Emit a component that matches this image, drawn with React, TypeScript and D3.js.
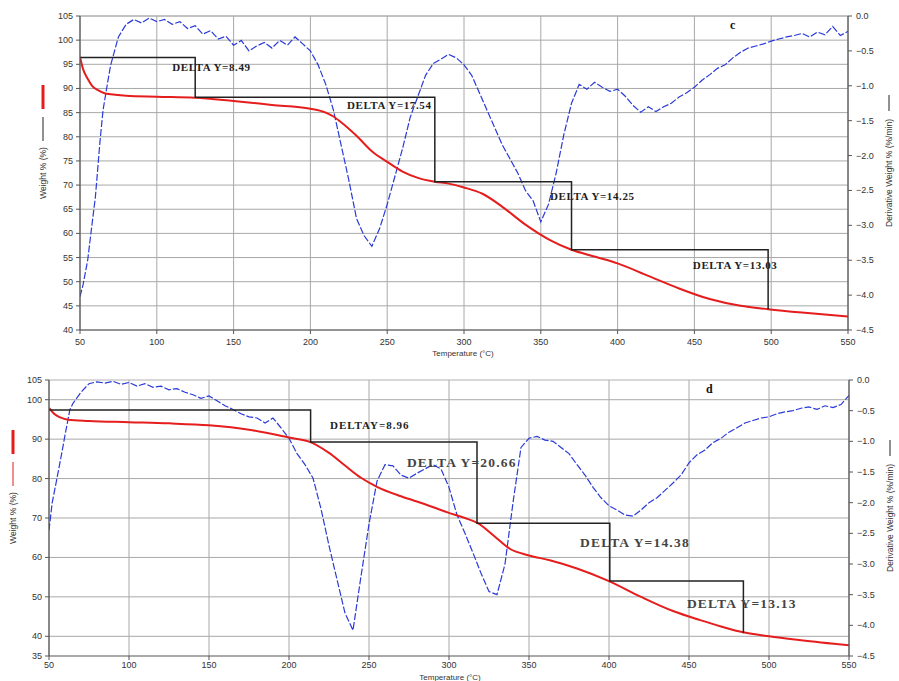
import React from "react";
import * as d3 from "d3";

// TGA weight (%) curves as [temperature, weight]
const weightC: [number, number][] = [
  [50, 96.5], [52, 94], [55, 92], [58, 90.5], [62, 89.6], [66, 89.0], [70, 88.8],
  [80, 88.5], [100, 88.3], [125, 88.1], [150, 87.4], [175, 86.6], [200, 85.8],
  [210, 85.0], [215, 84.2], [220, 83.0], [230, 80.2], [240, 77.0], [250, 74.8],
  [260, 72.8], [270, 71.5], [281, 70.7], [290, 70.3], [300, 69.5], [312, 68.2],
  [325, 65.5], [340, 61.8], [356, 58.6], [370, 56.6], [385, 55.2], [400, 53.8],
  [420, 51.2], [440, 48.6], [460, 46.4], [480, 45.0], [498, 44.3], [520, 43.6],
  [550, 42.8],
];

const weightD: [number, number][] = [
  [50, 97.9], [53, 96.5], [57, 95.5], [62, 94.9], [75, 94.6], [100, 94.3],
  [125, 94.0], [150, 93.5], [175, 92.4], [200, 90.4], [213, 89.3], [225, 86.5],
  [235, 83.3], [245, 80.2], [255, 77.9], [270, 75.5], [285, 73.5], [300, 71.3],
  [310, 70.0], [318, 68.7], [328, 65.5], [338, 62.2], [350, 60.5], [363, 59.3],
  [380, 57.2], [400, 54.0], [420, 50.0], [440, 46.4], [457, 44.1], [470, 42.5],
  [484, 41.0], [500, 40.0], [520, 39.0], [550, 37.7],
];

// DTG derivative weight (%/min) curves
const derivC: [number, number][] = [
  [50, -4.02], [52, -3.85], [55, -3.5], [58, -2.95], [60, -2.6], [63, -1.8], [65, -1.35],
  [68, -0.95], [70, -0.7], [75, -0.3], [80, -0.12], [85, -0.05], [90, -0.1], [95, -0.03],
  [100, -0.08], [105, -0.05], [110, -0.12], [115, -0.08], [120, -0.18], [125, -0.14],
  [130, -0.26], [135, -0.21], [140, -0.33], [145, -0.29], [150, -0.42], [155, -0.35],
  [160, -0.5], [165, -0.43], [170, -0.38], [175, -0.46], [180, -0.35], [185, -0.42],
  [190, -0.3], [195, -0.4], [200, -0.5], [205, -0.7], [210, -0.98], [215, -1.35],
  [220, -1.85], [225, -2.35], [230, -2.9], [235, -3.15], [240, -3.3], [245, -3.05],
  [250, -2.7], [255, -2.3], [260, -1.9], [265, -1.45], [270, -1.15], [275, -0.85],
  [280, -0.68], [285, -0.62], [290, -0.55], [295, -0.6], [300, -0.7], [305, -0.85],
  [310, -1.1], [315, -1.35], [320, -1.6], [325, -1.85], [330, -2.05], [335, -2.25],
  [340, -2.5], [345, -2.65], [350, -2.95], [355, -2.7], [360, -2.25], [365, -1.7],
  [370, -1.25], [375, -0.98], [380, -1.05], [385, -0.95], [390, -1.02], [395, -1.08],
  [400, -1.05], [405, -1.15], [410, -1.28], [415, -1.38], [420, -1.3], [425, -1.37],
  [430, -1.3], [435, -1.25], [440, -1.16], [445, -1.1], [450, -1.02], [455, -0.92],
  [460, -0.84], [465, -0.75], [470, -0.7], [475, -0.6], [480, -0.52], [485, -0.46],
  [490, -0.43], [495, -0.4], [500, -0.36], [505, -0.33], [510, -0.3], [515, -0.28],
  [520, -0.25], [525, -0.3], [530, -0.23], [535, -0.27], [540, -0.15], [545, -0.28],
  [550, -0.22],
];

const derivD: [number, number][] = [
  [50, -2.45], [52, -2.0], [55, -1.6], [58, -1.19], [60, -0.9], [63, -0.49], [65, -0.38],
  [70, -0.2], [75, -0.06], [80, -0.03], [85, -0.05], [90, -0.02], [95, -0.07],
  [100, -0.04], [105, -0.1], [110, -0.06], [115, -0.12], [120, -0.1], [125, -0.16],
  [130, -0.14], [135, -0.2], [140, -0.24], [145, -0.3], [150, -0.26], [155, -0.34],
  [160, -0.42], [165, -0.48], [170, -0.55], [175, -0.6], [180, -0.62], [185, -0.7],
  [190, -0.62], [195, -0.78], [200, -0.95], [205, -1.2], [210, -1.38], [215, -1.6],
  [220, -2.1], [225, -2.7], [230, -3.25], [235, -3.8], [240, -4.08], [245, -3.2],
  [250, -2.35], [255, -1.65], [260, -1.38], [265, -1.4], [270, -1.55], [275, -1.6],
  [280, -1.52], [285, -1.45], [290, -1.38], [295, -1.45], [300, -1.75], [305, -2.2],
  [310, -2.5], [315, -2.82], [320, -3.15], [325, -3.45], [330, -3.5], [335, -3.0],
  [340, -2.0], [345, -1.1], [350, -0.95], [355, -0.92], [360, -0.98], [365, -1.0],
  [370, -1.1], [375, -1.2], [380, -1.38], [385, -1.55], [390, -1.75], [395, -1.92],
  [400, -2.05], [405, -2.12], [410, -2.2], [415, -2.22], [420, -2.12], [425, -2.0],
  [430, -1.92], [435, -1.8], [440, -1.68], [445, -1.55], [450, -1.35], [455, -1.22],
  [460, -1.14], [465, -1.02], [470, -0.95], [475, -0.85], [480, -0.78], [485, -0.7],
  [490, -0.66], [495, -0.62], [500, -0.6], [505, -0.55], [510, -0.52], [515, -0.5],
  [520, -0.46], [525, -0.44], [530, -0.48], [535, -0.42], [540, -0.45], [545, -0.4],
  [550, -0.25],
];

// DELTA Y step lines: corners [temperature, weight]
const stepsC: [number, number][] = [
  [50, 96.4], [125, 96.4], [125, 88.2], [281, 88.2], [281, 70.7],
  [370, 70.7], [370, 56.6], [498, 56.6], [498, 44.3],
];
const stepsD: [number, number][] = [
  [50, 97.4], [213.5, 97.4], [213.5, 89.3], [317.5, 89.3], [317.5, 68.7],
  [400.5, 68.7], [400.5, 54], [484, 54], [484, 40.8],
];

// labels: [temperature, weight, text]
const labelsC: [number, number, string][] = [
  [110, 93.6, "DELTA Y=8.49"],
  [223.8, 85.7, "DELTA Y=17.54"],
  [356, 66.9, "DELTA Y=14.25"],
  [449, 52.6, "DELTA Y=13.03"],
];
const labelsD: [number, number, string][] = [
  [225.6, 92.6, "DELTAY=8.96"],
  [273.7, 82.9, "DELTA Y=20.66"],
  [381.9, 62.6, "DELTA Y=14.38"],
  [448.7, 47.2, "DELTA Y=13.13"],
];

const xTicks = [50, 100, 150, 200, 250, 300, 350, 400, 450, 500, 550];
const yTicksC = [40, 45, 50, 55, 60, 65, 70, 75, 80, 85, 90, 95, 100, 105];
const yTicksD = [35, 40, 50, 60, 70, 80, 90, 100, 105];
const gridD = [40, 50, 60, 70, 80, 90, 100];
const rTicks = [0, -0.5, -1, -1.5, -2, -2.5, -3, -3.5, -4, -4.5];

type PanelProps = {
  id: string;
  x0: number; x1: number; yTop: number; yBot: number;
  yDomain: [number, number];
  yTicks: number[]; grid: number[];
  weight: [number, number][]; deriv: [number, number][];
  steps: [number, number][];
  labels: [number, number, string][];
  labelSizes: number[]; labelSpacing: number[]; labelFill: string[];
  letter: string; letterX: number;
  titleY: number; titleX: number; tickGap: number;
  leftTitleX: number; legendThin: boolean;
};

const Panel = (p: PanelProps) => {
  const x = d3.scaleLinear().domain([50, 550]).range([p.x0, p.x1]);
  const y = d3.scaleLinear().domain(p.yDomain).range([p.yBot, p.yTop]);
  const yr = d3.scaleLinear().domain([-4.5, 0]).range([p.yBot, p.yTop]);
  const red = d3.line<[number, number]>().x((d) => x(d[0])).y((d) => y(d[1])).curve(d3.curveMonotoneX);
  const blue = d3.line<[number, number]>().x((d) => x(d[0])).y((d) => yr(d[1]));
  const step = d3.line<[number, number]>().x((d) => x(d[0])).y((d) => y(d[1]));
  const sans = "'Liberation Sans', Arial, sans-serif";
  const serif = "'Liberation Serif', 'Times New Roman', serif";
  const midY = (p.yTop + p.yBot) / 2;
  return (
    <g>
      <defs>
        <clipPath id={`clip-${p.id}`}>
          <rect x={p.x0} y={p.yTop - 1} width={p.x1 - p.x0} height={p.yBot - p.yTop + 2} />
        </clipPath>
      </defs>
      {/* grid */}
      {p.grid.map((t) => (
        <line key={"h" + t} x1={p.x0} x2={p.x1} y1={y(t)} y2={y(t)} stroke="#a8a8a8" strokeWidth={1} />
      ))}
      {xTicks.map((t) => (
        <line key={"v" + t} x1={x(t)} x2={x(t)} y1={p.yTop} y2={p.yBot} stroke="#a8a8a8" strokeWidth={1} />
      ))}
      <line x1={p.x0} x2={p.x1} y1={p.yTop} y2={p.yTop} stroke="#b0b0b0" />
      {/* curves */}
      <g clipPath={`url(#clip-${p.id})`}>
        <path d={blue(p.deriv) || ""} fill="none" stroke="#2a3ad8" strokeWidth={1.2} strokeDasharray="7,2" />
        <path d={red(p.weight) || ""} fill="none" stroke="#e51d1d" strokeWidth={2} />
        <path d={step(p.steps) || ""} fill="none" stroke="#222" strokeWidth={1.5} />
      </g>
      {p.labels.map(([t, w, s], i) => (
        <text key={s} x={x(t)} y={y(w)} fontFamily={serif} fontWeight="bold"
          fontSize={p.labelSizes[i]} letterSpacing={p.labelSpacing[i]} fill={p.labelFill[i]}>{s}</text>
      ))}
      {/* axes */}
      <line x1={p.x0} x2={p.x1} y1={p.yBot} y2={p.yBot} stroke="#555" strokeWidth={1.2} />
      <line x1={p.x0} x2={p.x0} y1={p.yTop} y2={p.yBot} stroke="#555" strokeWidth={1.2} />
      <line x1={p.x1} x2={p.x1} y1={p.yTop} y2={p.yBot} stroke="#555" strokeWidth={1.2} />
      {xTicks.map((t) => (
        <g key={"xt" + t}>
          <line x1={x(t)} x2={x(t)} y1={p.yBot} y2={p.yBot + 4} stroke="#555" />
          <text x={x(t)} y={p.yBot + p.tickGap} textAnchor="middle" fontFamily={sans} fontSize={9} fill="#333">{t}</text>
        </g>
      ))}
      {p.yTicks.map((t) => (
        <g key={"yt" + t}>
          <line x1={p.x0 - 4} x2={p.x0} y1={y(t)} y2={y(t)} stroke="#555" />
          <text x={p.x0 - 7} y={y(t) + 3} textAnchor="end" fontFamily={sans} fontSize={9} fill="#333">{t}</text>
        </g>
      ))}
      {rTicks.map((t) => (
        <g key={"rt" + t}>
          <line x1={p.x1} x2={p.x1 + 4} y1={yr(t)} y2={yr(t)} stroke="#555" />
          <text x={p.x1 + 8} y={yr(t) + 3} fontFamily={sans} fontSize={9} fill="#333">{d3.format(".1f")(t)}</text>
        </g>
      ))}
      <text x={p.titleX} y={p.titleY} textAnchor="middle" fontFamily={sans} fontSize={8} fill="#333">Temperature (°C)</text>
      {/* left title with legend marks */}
      <text transform={`translate(${p.leftTitleX},${midY}) rotate(-90)`} textAnchor="middle" fontFamily={sans} fontSize={8.5} fill="#333">Weight % (%)</text>
      <line x1={p.leftTitleX - 3} x2={p.leftTitleX - 3} y1={midY - 88} y2={midY - 64} stroke="#e51d1d" strokeWidth={3} />
      <line x1={p.leftTitleX - 3} x2={p.leftTitleX - 3} y1={midY - 56} y2={midY - 32}
        stroke={p.legendThin ? "#e51d1d" : "#222"} strokeWidth={1} />
      {/* right title */}
      <text transform={`translate(${p.x1 + 44},${midY}) rotate(-90)`} textAnchor="middle" fontFamily={sans} fontSize={8.5} fill="#333">
        Derivative Weight % (%/min)
      </text>
      <line x1={p.x1 + 41} x2={p.x1 + 41} y1={midY - 78} y2={midY - 62} stroke="#222" strokeWidth={1} />
      <text x={p.letterX} y={p.yTop + 13} fontFamily={serif} fontWeight="bold" fontSize={12} fill="#111">{p.letter}</text>
    </g>
  );
};

export default function App() {
  return (
    <svg width={899} height={681} style={{ position: "absolute", left: 0, top: 0, background: "#fff" }}>
      <rect width={899} height={681} fill="#fff" />
      <Panel id="c" x0={80} x1={848} yTop={16} yBot={330} yDomain={[40, 105]}
        yTicks={yTicksC} grid={yTicksC} weight={weightC} deriv={derivC} steps={stepsC}
        labels={labelsC} labelSizes={[11, 11, 11, 11]} labelSpacing={[0.6, 0.6, 0.6, 0.6]}
        labelFill={["#222", "#222", "#222", "#222"]}
        letter="c" letterX={730} titleX={463} titleY={356} tickGap={15} leftTitleX={46} legendThin={false} />
      <Panel id="d" x0={49} x1={849} yTop={380} yBot={656} yDomain={[35, 105]}
        yTicks={yTicksD} grid={gridD} weight={weightD} deriv={derivD} steps={stepsD}
        labels={labelsD} labelSizes={[11, 13.5, 13.5, 13.5]} labelSpacing={[1, 1.2, 1.2, 1.2]}
        labelFill={["#222", "#444", "#444", "#444"]}
        letter="d" letterX={706} titleX={450} titleY={680} tickGap={12} leftTitleX={16} legendThin={true} />
    </svg>
  );
}
